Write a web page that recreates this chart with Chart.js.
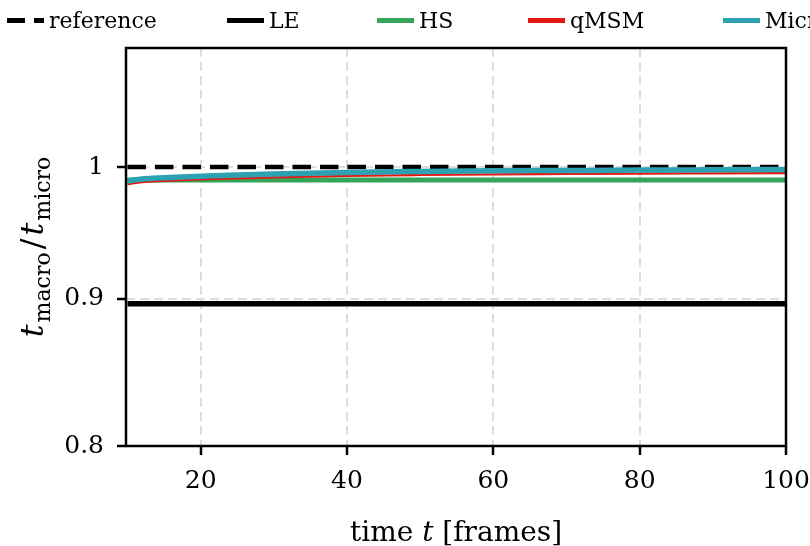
<!DOCTYPE html>
<html>
<head>
<meta charset="utf-8">
<script src="https://cdn.jsdelivr.net/npm/chart.js@4.4.1/dist/chart.umd.min.js"></script>
<style>
    html, body { margin: 0; padding: 0; background: #fff; }
    canvas { display: block; }
</style>
</head>
<body>
<canvas id="ratio_chart" width="810" height="546"></canvas>
<script>
var times = [10, 12, 15, 20, 25, 30, 40, 50, 60, 70, 80, 90, 100];

var referenceValues = [1, 1, 1, 1, 1, 1, 1, 1, 1, 1, 1, 1, 1];
var leValues = [0.8965, 0.8965, 0.8965, 0.8965, 0.8965, 0.8965, 0.8965, 0.8965, 0.8965, 0.8965, 0.8965, 0.8965, 0.8965];
var hsValues = [0.9898, 0.9898, 0.9898, 0.9898, 0.9898, 0.9898, 0.9898, 0.9898, 0.9898, 0.9898, 0.9898, 0.9898, 0.9898];
var qmsmValues = [0.9865, 0.988, 0.989, 0.9902, 0.991, 0.9918, 0.993, 0.9937, 0.9942, 0.9945, 0.9948, 0.995, 0.9952];
var microValues = [0.989, 0.9905, 0.9915, 0.9928, 0.9937, 0.9945, 0.9958, 0.9965, 0.997, 0.9973, 0.9976, 0.9978, 0.998];

var seriesNames = ['reference', 'LE', 'HS', 'qMSM', 'Micro'];
var xTicks = [20, 40, 60, 80, 100];
var yTicks = [0.8, 0.9, 1];

var serif = '"DejaVu Serif", serif';

function line(values, name, color, width, dash, order) {
    return {
        label: name,
        data: times.map(function (t, i) { return { x: t, y: values[i] }; }),
        borderColor: color,
        backgroundColor: color,
        borderWidth: width,
        borderDash: dash,
        pointRadius: 0,
        cubicInterpolationMode: 'monotone',
        fill: false,
        order: order
    };
}

// legend + axis titles by hand, matplotlib look
var overlay = {
    id: 'overlay',
    afterDraw: function (chart) {
        var ctx = chart.ctx;
        var area = chart.chartArea;
        ctx.save();

        // frame
        ctx.setLineDash([]);
        ctx.strokeStyle = '#000';
        ctx.lineWidth = 2.5;
        ctx.strokeRect(area.left, area.top, area.right - area.left, area.bottom - area.top);

        // legend on top
        var legendX = [7, 227, 377, 528, 723];
        ctx.font = '22px ' + serif;
        ctx.textBaseline = 'alphabetic';
        ctx.textAlign = 'left';
        chart.data.datasets.forEach(function (ds, i) {
            ctx.beginPath();
            ctx.setLineDash(ds.borderDash.length ? [18, 9] : []);
            ctx.lineCap = 'butt';
            ctx.strokeStyle = ds.borderColor;
            ctx.lineWidth = 5;
            ctx.moveTo(legendX[i], 20.5);
            ctx.lineTo(legendX[i] + 37, 20.5);
            ctx.stroke();
            ctx.fillStyle = '#000';
            ctx.fillText(ds.label, legendX[i] + 42, 28);
        });
        ctx.setLineDash([]);

        // x title: time t [frames]
        var parts = [['time ', ''], ['t', 'italic '], [' [frames]', '']];
        var widths = parts.map(function (p) {
            ctx.font = p[1] + '28px ' + serif;
            return ctx.measureText(p[0]).width;
        });
        var total = widths.reduce(function (a, b) { return a + b; }, 0);
        var x = (area.left + area.right) / 2 - total / 2;
        parts.forEach(function (p, i) {
            ctx.font = p[1] + '28px ' + serif;
            ctx.fillText(p[0], x, 541);
            x += widths[i];
        });

        // y title: t_macro / t_micro
        ctx.translate(43, (area.top + area.bottom) / 2);
        ctx.rotate(-Math.PI / 2);
        var bits = [
            ['t', 'italic 32px ', 0, 2],
            ['macro', '22px ', 7, 3],
            ['/', '32px ', 0, 3],
            ['t', 'italic 32px ', 0, 2],
            ['micro', '22px ', 7, 0]
        ];
        var w = bits.map(function (b) {
            ctx.font = b[1] + serif;
            return ctx.measureText(b[0]).width + b[3];
        });
        var len = w.reduce(function (a, b) { return a + b; }, 0);
        var pos = -len / 2;
        bits.forEach(function (b, i) {
            ctx.font = b[1] + serif;
            ctx.fillText(b[0], pos, b[2]);
            pos += w[i];
        });

        ctx.restore();
    }
};

new Chart(document.getElementById('ratio_chart'), {
    type: 'line',
    data: {
        datasets: [
            line(referenceValues, seriesNames[0], '#000000', 4.5, [18.5, 9], 5),
            line(leValues, seriesNames[1], '#000000', 5.5, [], 4),
            line(hsValues, seriesNames[2], '#33a45a', 5, [], 3),
            line(qmsmValues, seriesNames[3], '#e41a12', 2.2, [], 2),
            line(microValues, seriesNames[4], '#2ca1b1', 5.5, [], 1)
        ]
    },
    options: {
        responsive: false,
        animation: false,
        layout: { padding: { top: 48, right: 24, left: 0, bottom: 0 } },
        plugins: {
            legend: { display: false },
            tooltip: { enabled: false }
        },
        scales: {
            x: {
                type: 'linear',
                min: 9.8,
                max: 100,
                afterFit: function (scale) {
                    scale.height = 100;
                    scale.paddingLeft = 0;
                    scale.paddingRight = 0;
                },
                afterBuildTicks: function (scale) {
                    scale.ticks = xTicks.map(function (v) { return { value: v }; });
                },
                grid: { color: '#dcdce4', lineWidth: 2, tickColor: '#000', tickWidth: 2.5, tickLength: 9, tickBorderDash: [] },
                border: { display: false, dash: [9, 5] },
                ticks: { color: '#000', font: { family: serif, size: 25 }, padding: 11, maxRotation: 0, autoSkip: false }
            },
            y: {
                type: 'logarithmic',
                min: 0.8,
                max: 1.1,
                afterFit: function (scale) {
                    scale.width = 126;
                    scale.paddingTop = 0;
                    scale.paddingBottom = 0;
                },
                afterBuildTicks: function (scale) {
                    scale.ticks = yTicks.map(function (v) { return { value: v }; });
                },
                grid: { color: '#dcdce4', lineWidth: 2, tickColor: '#000', tickWidth: 2.5, tickLength: 9, tickBorderDash: [] },
                border: { display: false, dash: [9, 5] },
                ticks: {
                    color: '#000',
                    font: { family: serif, size: 25 },
                    padding: 13,
                    autoSkip: false,
                    callback: function (v) { return String(v); }
                }
            }
        }
    },
    plugins: [overlay]
});
</script>
</body>
</html>
